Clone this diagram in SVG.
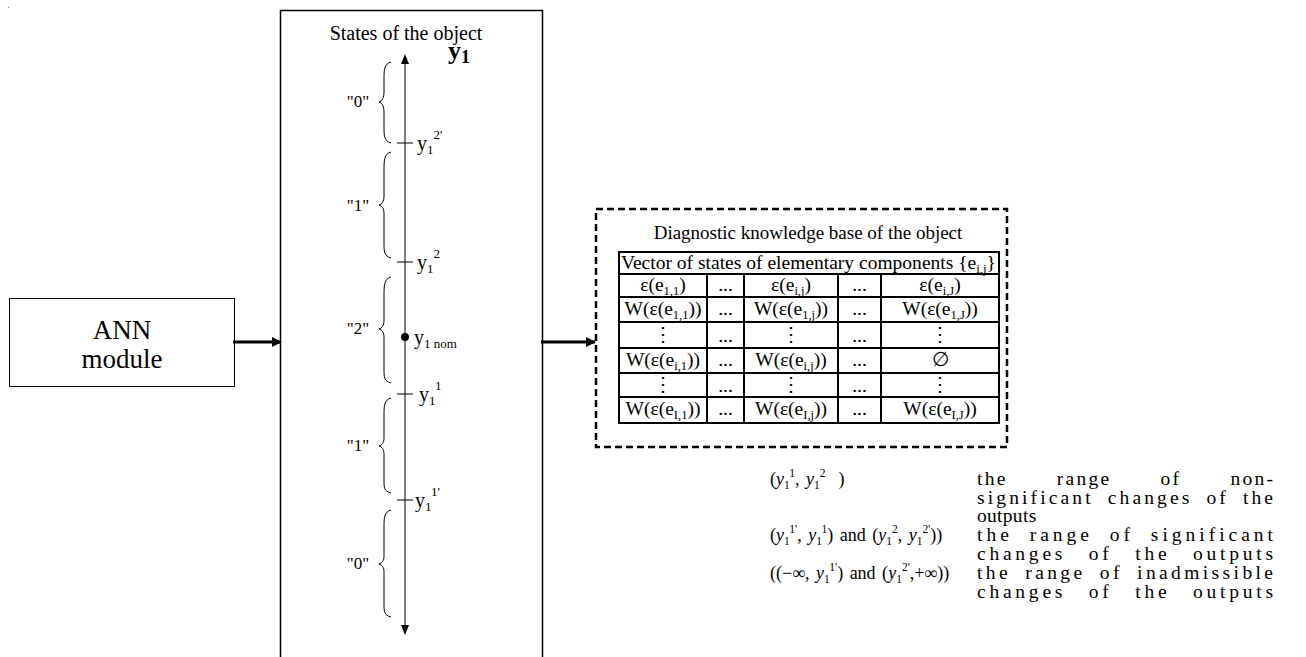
<svg xmlns="http://www.w3.org/2000/svg" width="1306" height="657" viewBox="0 0 1306 657">
<style>
text{font-family:"Liberation Serif","Times New Roman",serif;fill:#000}
.t{font-size:19.5px;text-anchor:middle}
.s{font-size:13px}
.ss{font-size:12.5px}
.ls{font-size:11.5px}
.lab{font-size:20px}
.br{fill:none;stroke:#000;stroke-width:1}
.grid{stroke:#000;stroke-width:2;fill:none}
.leg{font-size:19.5px}
.lf{font-size:18px;word-spacing:2px}
.it{font-style:italic}
</style>
<defs>
<marker id="ah" markerWidth="10" markerHeight="10" refX="9" refY="5" orient="auto" markerUnits="userSpaceOnUse"><path d="M0,0 L10,5 L0,10 Z" fill="#000"/></marker>
</defs>
<rect x="8" y="7" width="1" height="1" fill="#888"/>
<g id="ann">
<rect x="9.5" y="298.5" width="225" height="88" fill="#fff" stroke="#000" stroke-width="1"/>
<text x="122" y="339" style="font-size:27px;text-anchor:middle">ANN</text>
<text x="122" y="368" style="font-size:27px;text-anchor:middle">module</text>
</g>
<g id="states">
<rect x="280.5" y="10.5" width="262" height="660" fill="#fff" stroke="#000" stroke-width="1.5"/>
<text x="406" y="40" style="font-size:20px;text-anchor:middle">States of the object</text>
<line x1="405" y1="62" x2="405" y2="626" stroke="#000" stroke-width="1"/>
<path d="M405,54 L401,64 L409,64 Z" fill="#000"/>
<path d="M405,635 L401,625 L409,625 Z" fill="#000"/>
<text x="448" y="59" style="font-size:26px;font-weight:bold">y<tspan dy="4" style="font-size:18px">1</tspan></text>
<g stroke="#000" stroke-width="1">
<line x1="397" y1="143" x2="413" y2="143"/>
<line x1="397" y1="262" x2="413" y2="262"/>
<line x1="397" y1="394" x2="413" y2="394"/>
<line x1="397" y1="500" x2="413" y2="500"/>
</g>
<circle cx="405" cy="337" r="4" fill="#000"/>
<text x="417" y="150" class="lab">y<tspan dy="4" class="s">1</tspan><tspan dy="-15" class="s">2'</tspan></text>
<text x="417" y="269" class="lab">y<tspan dy="4" class="s">1</tspan><tspan dy="-15" class="s">2</tspan></text>
<text x="414" y="344" class="lab">y<tspan dy="4" class="s">1 nom</tspan></text>
<text x="419" y="401" class="lab">y<tspan dy="4" class="s">1</tspan><tspan dy="-15" class="s">1</tspan></text>
<text x="415" y="507" class="lab">y<tspan dy="4" class="s">1</tspan><tspan dy="-15" class="s">1'</tspan></text>
<path class="br" d="M391,62 C384,64 384,70 384,80 L384,92 C384,98 382,101 379,102 C382,103 384,106 384,112 L384,126 C384,136 384,141 391,143"/>
<path class="br" d="M391,152 C384,154 384,160 384,172 L384,196 C384,202 382,204 379,205 C382,206 384,208 384,214 L384,242 C384,252 384,256 391,258"/>
<path class="br" d="M391,277 C384,279 384,285 384,297 L384,320 C384,326 382,328 379,329 C382,330 384,332 384,338 L384,368 C384,378 384,381 391,383"/>
<path class="br" d="M391,398 C384,400 384,406 384,416 L384,438 C384,443 382,445 379,446 C382,447 384,449 384,454 L384,480 C384,488 384,491 391,493"/>
<path class="br" d="M391,510 C384,512 384,518 384,528 L384,556 C384,561 382,563 379,564 C382,565 384,567 384,572 L384,603 C384,612 384,615 391,617"/>
<g style="font-size:17px;text-anchor:middle">
<text x="358" y="107">"0"</text>
<text x="358" y="211">"1"</text>
<text x="358" y="334">"2"</text>
<text x="358" y="451">"1"</text>
<text x="358" y="569">"0"</text>
</g>
</g>
<g id="kb">
<rect x="596" y="209" width="411" height="238" fill="none" stroke="#000" stroke-width="2.5" stroke-dasharray="7,4"/>
<text x="808" y="239" style="font-size:19px;text-anchor:middle">Diagnostic knowledge base of the object</text>
<g class="grid">
<rect x="619" y="252" width="380" height="171"/>
<line x1="619" y1="274" x2="999" y2="274"/>
<line x1="619" y1="297" x2="999" y2="297"/>
<line x1="619" y1="322" x2="999" y2="322"/>
<line x1="619" y1="348" x2="999" y2="348"/>
<line x1="619" y1="373" x2="999" y2="373"/>
<line x1="619" y1="397" x2="999" y2="397"/>
<line x1="707" y1="274" x2="707" y2="423"/>
<line x1="744" y1="274" x2="744" y2="423"/>
<line x1="838" y1="274" x2="838" y2="423"/>
<line x1="881" y1="274" x2="881" y2="423"/>
</g>
<text x="621" y="269" style="font-size:19px" textLength="375" lengthAdjust="spacingAndGlyphs">Vector of states of elementary components {e<tspan dy="4" class="ss">i,j</tspan><tspan dy="-4">}</tspan></text>
<text x="663" y="291" class="t">ε(e<tspan dy="4" class="ss">1,1</tspan><tspan dy="-4">)</tspan></text>
<text x="725.5" y="291" class="t">...</text>
<text x="791" y="291" class="t">ε(e<tspan dy="4" class="ss">i,j</tspan><tspan dy="-4">)</tspan></text>
<text x="859.5" y="291" class="t">...</text>
<text x="940" y="291" class="t">ε(e<tspan dy="4" class="ss">i,J</tspan><tspan dy="-4">)</tspan></text>
<text x="663" y="315" class="t">W(ε(e<tspan dy="4" class="ss">1,1</tspan><tspan dy="-4">))</tspan></text>
<text x="725.5" y="315" class="t">...</text>
<text x="791" y="315" class="t">W(ε(e<tspan dy="4" class="ss">1,j</tspan><tspan dy="-4">))</tspan></text>
<text x="859.5" y="315" class="t">...</text>
<text x="940" y="315" class="t">W(ε(e<tspan dy="4" class="ss">1,J</tspan><tspan dy="-4">))</tspan></text>
<text x="663" y="341" class="t">⋮</text>
<text x="725.5" y="342" class="t">...</text>
<text x="791" y="341" class="t">⋮</text>
<text x="859.5" y="342" class="t">...</text>
<text x="940" y="341" class="t">⋮</text>
<text x="663" y="366" class="t">W(ε(e<tspan dy="4" class="ss">i,1</tspan><tspan dy="-4">))</tspan></text>
<text x="725.5" y="366" class="t">...</text>
<text x="791" y="366" class="t">W(ε(e<tspan dy="4" class="ss">i,j</tspan><tspan dy="-4">))</tspan></text>
<text x="859.5" y="366" class="t">...</text>
<text x="940" y="366" class="t">∅</text>
<text x="663" y="391" class="t">⋮</text>
<text x="725.5" y="392" class="t">...</text>
<text x="791" y="391" class="t">⋮</text>
<text x="859.5" y="392" class="t">...</text>
<text x="940" y="391" class="t">⋮</text>
<text x="663" y="415" class="t">W(ε(e<tspan dy="4" class="ss">I,1</tspan><tspan dy="-4">))</tspan></text>
<text x="725.5" y="415" class="t">...</text>
<text x="791" y="415" class="t">W(ε(e<tspan dy="4" class="ss">I,j</tspan><tspan dy="-4">))</tspan></text>
<text x="859.5" y="415" class="t">...</text>
<text x="940" y="415" class="t">W(ε(e<tspan dy="4" class="ss">I,J</tspan><tspan dy="-4">))</tspan></text>
</g>
<g id="connectors" stroke="#000" stroke-width="3" fill="none">
<line x1="233" y1="342" x2="281" y2="342" marker-end="url(#ah)"/>
<line x1="541" y1="342" x2="595" y2="342" marker-end="url(#ah)"/>
</g>
<g id="legend">
<text x="770" y="485" class="lf" xml:space="preserve">(<tspan class="it">y</tspan><tspan dy="4" class="ls">1</tspan><tspan dy="-12" class="ls">1</tspan><tspan dy="8">, </tspan><tspan class="it">y</tspan><tspan dy="4" class="ls">1</tspan><tspan dy="-12" class="ls">2</tspan><tspan dy="8">  )</tspan></text>
<text x="770" y="541" class="lf" xml:space="preserve">(<tspan class="it">y</tspan><tspan dy="4" class="ls">1</tspan><tspan dy="-12" class="ls">1'</tspan><tspan dy="8">, </tspan><tspan class="it">y</tspan><tspan dy="4" class="ls">1</tspan><tspan dy="-12" class="ls">1</tspan><tspan dy="8">) and (</tspan><tspan class="it">y</tspan><tspan dy="4" class="ls">1</tspan><tspan dy="-12" class="ls">2</tspan><tspan dy="8">, </tspan><tspan class="it">y</tspan><tspan dy="4" class="ls">1</tspan><tspan dy="-12" class="ls">2'</tspan><tspan dy="8">))</tspan></text>
<text x="770" y="579" class="lf" xml:space="preserve">((−∞, <tspan class="it">y</tspan><tspan dy="4" class="ls">1</tspan><tspan dy="-12" class="ls">1'</tspan><tspan dy="8">) and (</tspan><tspan class="it">y</tspan><tspan dy="4" class="ls">1</tspan><tspan dy="-12" class="ls">2'</tspan><tspan dy="8">,+∞))</tspan></text>
<text x="977" y="485" class="leg" style="word-spacing:42px" textLength="296" lengthAdjust="spacing">the range of non-</text>
<text x="977" y="504" class="leg" style="word-spacing:6px" textLength="296" lengthAdjust="spacing">significant changes of the</text>
<text x="977" y="522" class="leg" style="letter-spacing:0.3px">outputs</text>
<text x="977" y="541" class="leg" style="word-spacing:8px" textLength="296" lengthAdjust="spacing">the range of significant</text>
<text x="977" y="560" class="leg" style="word-spacing:14px" textLength="296" lengthAdjust="spacing">changes of the outputs</text>
<text x="977" y="579" class="leg" style="word-spacing:6px" textLength="296" lengthAdjust="spacing">the range of inadmissible</text>
<text x="977" y="598" class="leg" style="word-spacing:14px" textLength="296" lengthAdjust="spacing">changes of the outputs</text>
</g>
</svg>
